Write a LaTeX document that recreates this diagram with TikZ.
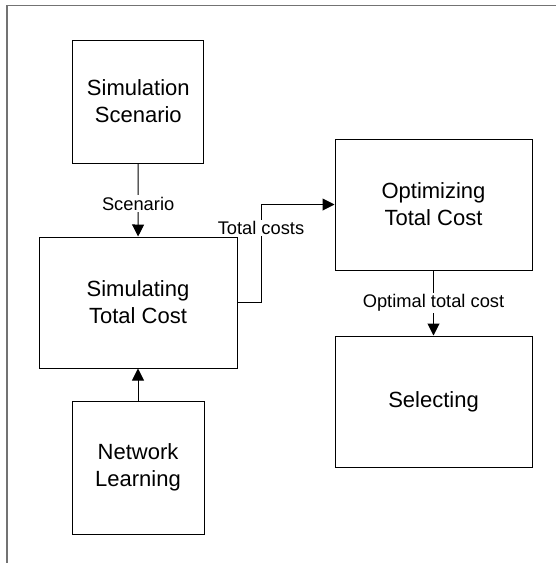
\documentclass[tikz,border=0pt]{standalone}
\usepackage{fontspec}
\setmainfont{Liberation Sans}
\usetikzlibrary{arrows.meta}
\begin{document}
\begin{tikzpicture}[x=1pt,y=-1pt,
  boxnode/.style={draw=black,line width=1pt,inner sep=0pt,align=center,
    font=\fontsize{22}{27}\selectfont},
  arr/.style={draw=black,line width=1pt,-{Triangle[width=12pt,length=12pt]}},
  lbl/.style={fill=white,inner sep=1.5pt,font=\fontsize{18.3}{20}\selectfont}]
\useasboundingbox (0,0) rectangle (556,563);
\draw[black!55,line width=1.5pt] (556,5.7) -- (7,5.7) -- (7,563);
\node[boxnode,minimum width=131pt,minimum height=123pt] (simscen) at (138.3,101.5) {Simulation\\Scenario};
\node[boxnode,minimum width=198pt,minimum height=131pt] (simtot) at (138,302.5) {Simulating\\Total Cost};
\node[boxnode,minimum width=132pt,minimum height=133pt] (netlearn) at (138,467.5) {Network\\Learning};
\node[boxnode,minimum width=197pt,minimum height=131pt] (opt) at (433.5,204.5) {Optimizing\\Total Cost};
\node[boxnode,minimum width=197pt,minimum height=131pt] (sel) at (433.5,401.5) {Selecting};
\coordinate (tc) at (261,302.5);
\draw[arr] (simscen) -- node[lbl,pos=0.55]{Scenario} (simtot);
\draw[arr] (simtot.east) -- (tc) |- node[lbl,pos=0.38]{Total costs} (opt.west);
\draw[arr] (opt) -- node[lbl]{Optimal total cost} (sel);
\draw[arr] (netlearn) -- (simtot);
\end{tikzpicture}
\end{document}
